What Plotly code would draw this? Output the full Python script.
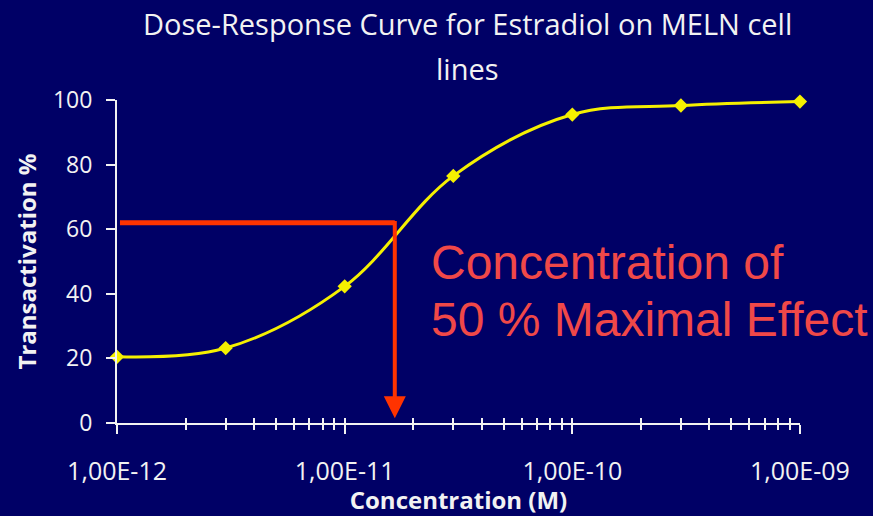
import numpy as np
import plotly.graph_objects as go

# Data
conc = [1e-12, 3e-12, 1e-11, 3e-11, 1e-10, 3e-10, 1e-9]
response = [20.5, 23.2, 42.3, 76.5, 95.5, 98.3, 99.5]

ec50_x = 1.66e-11
ec50_y = 62
x_tick_vals = [1e-12, 1e-11, 1e-10, 1e-9]
x_tick_text = ["1,00E-12", "1,00E-11", "1,00E-10", "1,00E-09"]
y_tick_vals = [0, 20, 40, 60, 80, 100]
title_lines = ["Dose-Response Curve for Estradiol on MELN cell", "lines"]
label_lines = ["Concentration of", "50 % Maximal Effect"]

BG = "#000066"
WHITE = "#F2F2F2"
TFONT = "Open Sans"

# plot area geometry (px)
L, R, T, B = 117, 73, 100, 89
W, H = 873, 516
PH = H - T - B


def py_to_paper(py):
    return (H - B - py) / PH


fig = go.Figure()

fig.add_trace(go.Scatter(
    x=conc, y=response, mode="lines+markers",
    line=dict(color="#F5F000", width=3, shape="spline", smoothing=1.0),
    marker=dict(symbol="diamond", size=11, color="#F5F000"),
    cliponaxis=False, showlegend=False, hoverinfo="skip"))

# horizontal red line
fig.add_trace(go.Scatter(
    x=[1.03e-12, ec50_x], y=[ec50_y, ec50_y], mode="lines",
    line=dict(color="#FF3300", width=5), showlegend=False,
    cliponaxis=False, hoverinfo="skip"))

# vertical arrow
fig.add_annotation(
    x=np.log10(ec50_x), y=1.5, ax=np.log10(ec50_x), ay=ec50_y + 1.0,
    xref="x", yref="y", axref="x", ayref="y",
    showarrow=True, arrowhead=2, arrowsize=1.1, arrowwidth=4,
    arrowcolor="#FF3300", text="")

# red label lines
for txt, py in zip(label_lines, [265, 322]):
    fig.add_annotation(
        xref="paper", yref="paper", x=(429 - L) / (W - L - R), y=py_to_paper(py),
        text=txt, showarrow=False, xanchor="left", yanchor="middle",
        font=dict(family="Liberation Sans", size=48, color="#F04848"))

# title lines
for txt, py in zip(title_lines, [23, 68]):
    fig.add_annotation(
        xref="paper", yref="paper", x=(467 - L) / (W - L - R), y=py_to_paper(py),
        text=txt, showarrow=False, xanchor="center", yanchor="middle",
        font=dict(family=TFONT, size=29, color=WHITE))

fig.update_layout(
    width=W, height=H,
    paper_bgcolor=BG, plot_bgcolor=BG,
    margin=dict(l=L, r=R, t=T, b=B),
    xaxis=dict(
        type="log", range=[-12.0002, -8.9998],
        tickvals=x_tick_vals, ticktext=x_tick_text,
        ticks="outside", ticklen=9, tickwidth=2, tickcolor=WHITE,
        minor=dict(ticks="outside", ticklen=5, tickwidth=2, tickcolor=WHITE,
                   dtick="D1", showgrid=False),
        showline=True, linecolor=WHITE, linewidth=2,
        showgrid=False, zeroline=False, ticklabelstandoff=16,
        tickfont=dict(family=TFONT, size=25, color=WHITE),
        title=dict(text="<b>Concentration (M)</b>", standoff=0,
                   font=dict(family=TFONT, size=24, color=WHITE))),
    xaxis2=dict(
        type="log", range=[-12.0002, -8.9998], overlaying="x",
        tickvals=x_tick_vals, showticklabels=False,
        ticks="inside", ticklen=5, tickwidth=2, tickcolor=WHITE,
        minor=dict(ticks="inside", ticklen=5, tickwidth=2, tickcolor=WHITE,
                   dtick="D1", showgrid=False),
        showline=False, showgrid=False, zeroline=False),
    yaxis=dict(
        range=[0, 100], tickvals=y_tick_vals,
        ticks="outside", ticklen=9, tickwidth=2, tickcolor=WHITE,
        showline=True, linecolor=WHITE, linewidth=2,
        showgrid=False, zeroline=False, ticklabelstandoff=9,
        tickfont=dict(family=TFONT, size=23, color=WHITE),
        title=dict(text="<b>Transactivation %</b>", standoff=10,
                   font=dict(family=TFONT, size=24, color=WHITE))),
)

# invisible trace to anchor xaxis2
fig.add_trace(go.Scatter(x=[1e-12], y=[None], xaxis="x2", showlegend=False,
                         hoverinfo="skip"))

fig.write_html("out.html")
